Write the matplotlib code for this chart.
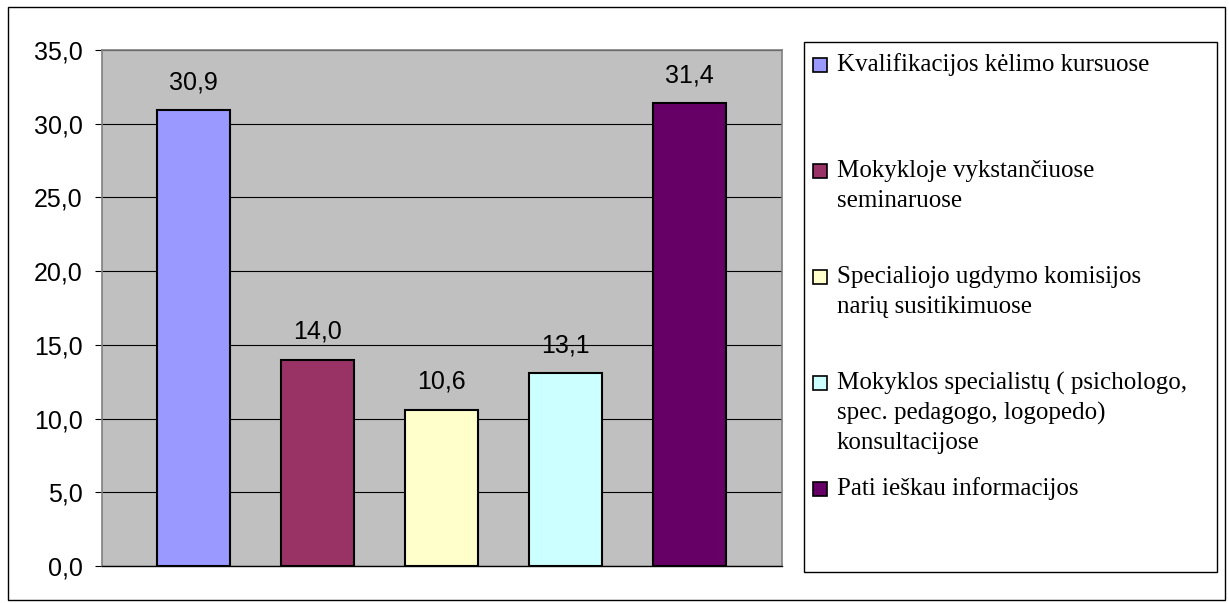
import numpy as np
import matplotlib
matplotlib.use("Agg")
import matplotlib.pyplot as plt
from matplotlib.patches import Rectangle
from matplotlib.ticker import FuncFormatter

# duomenys
kategorijos = [
    "Kvalifikacijos kėlimo kursuose",
    "Mokykloje vykstančiuose\nseminaruose",
    "Specialiojo ugdymo komisijos\nnarių susitikimuose",
    "Mokyklos specialistų ( psichologo,\nspec. pedagogo, logopedo)\nkonsultacijose",
    "Pati ieškau informacijos",
]
reiksmes = [30.9, 14.0, 10.6, 13.1, 31.4]
spalvos = ["#9999FF", "#993366", "#FFFFCC", "#CCFFFF", "#660066"]
y_ticks = [0, 5, 10, 15, 20, 25, 30, 35]

W, H = 1229, 603
fig = plt.figure(figsize=(W / 100, H / 100), dpi=100)

def kablelis(v, pos=None):
    return ("%.1f" % v).replace(".", ",")

# grafiko sritis
ax = fig.add_axes([102 / W, 1 - 566 / H, 680 / W, 516 / H])
ax.set_facecolor("#C0C0C0")
x = np.arange(len(reiksmes))
ax.bar(x, reiksmes, width=0.59, color=spalvos, edgecolor="black", linewidth=1.5, zorder=3)
ax.set_xlim(-0.738, 4.746)
ax.set_ylim(0, 35)
ax.set_yticks(y_ticks)
ax.yaxis.set_major_formatter(FuncFormatter(kablelis))
ax.grid(axis="y", color="black", linewidth=0.8, zorder=0)
ax.set_axisbelow(True)
ax.set_xticks([])
ax.tick_params(axis="y", direction="out", length=5, width=0.8, pad=9,
               labelsize=18, colors="black")
for lbl in ax.get_yticklabels():
    lbl.set_family("Liberation Sans")
for s in ["top", "right", "left"]:
    ax.spines[s].set_color("#808080")
    ax.spines[s].set_linewidth(1.2)
ax.spines["bottom"].set_color("black")
ax.spines["bottom"].set_linewidth(1.0)

for xi, v in zip(x, reiksmes):
    ax.annotate(kablelis(v), (xi, v), xytext=(0, 20), textcoords="offset points",
                ha="center", va="center", fontsize=18, family="Liberation Sans")

# isorinis remelis
fig.patches.append(Rectangle((8 / W, 1 - 600 / H), 1217 / W, 593 / H,
                             transform=fig.transFigure, fill=False,
                             edgecolor="black", linewidth=1.0))

# legenda
fig.patches.append(Rectangle((804 / W, 1 - 572 / H), 413 / W, 530 / H,
                             transform=fig.transFigure, facecolor="white",
                             edgecolor="black", linewidth=1.0))
pirmas, zingsnis, eilute = 65, 106, 30
for i, (txt, c) in enumerate(zip(kategorijos, spalvos)):
    yc = pirmas + i * zingsnis
    fig.patches.append(Rectangle((813 / W, 1 - (yc + 7) / H), 14 / W, 14 / H,
                                 transform=fig.transFigure, facecolor=c,
                                 edgecolor="black", linewidth=1.2))
    for j, eil in enumerate(txt.split("\n")):
        fig.text(837 / W, 1 - (yc + j * eilute) / H, eil, ha="left", va="center",
                 fontsize=18, family="Liberation Serif")

fig.savefig("out.png", dpi=100)
